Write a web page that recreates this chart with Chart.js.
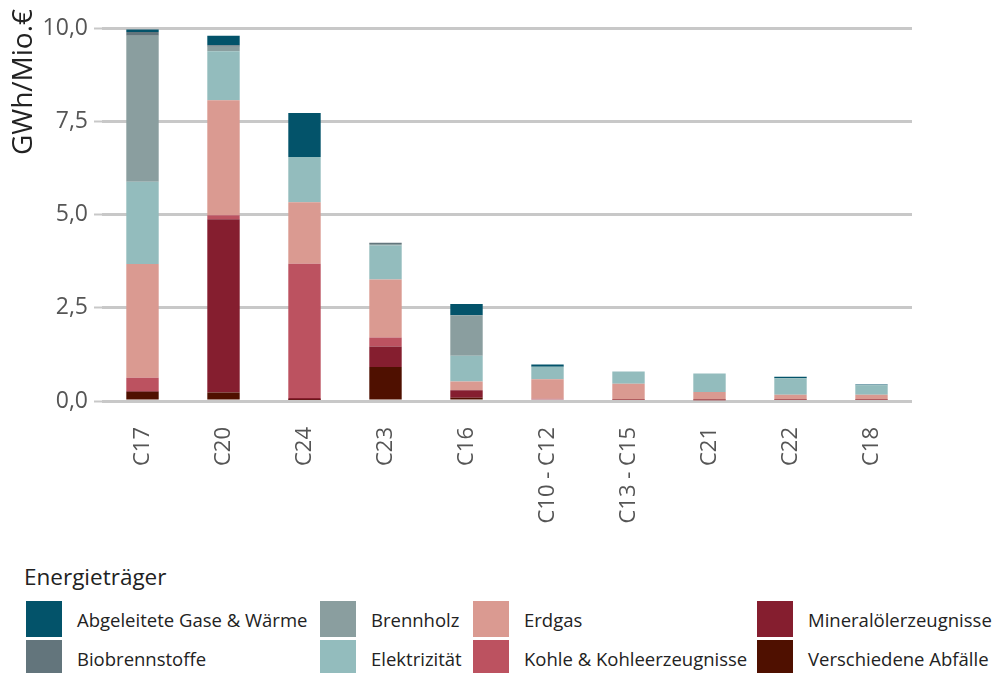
<!DOCTYPE html>
<html>
<head>
<meta charset="utf-8">
<script src="https://cdn.jsdelivr.net/npm/chart.js@4.4.0/dist/chart.umd.min.js"></script>
<style>
  body { margin: 0; background: #fff; font-family: 'Open Sans', sans-serif; }
  #wrap { position: relative; width: 994px; height: 673px; overflow: hidden; }
  #chartBox { position: absolute; left: 0; top: 0; width: 994px; height: 552px; }
  #legend { position: absolute; left: 24px; top: 561px; color: #222; }
  #legend .title { font-size: 22.5px; margin-bottom: 9px; }
  #legend .items { display: grid; grid-template-rows: 36px 36px; grid-template-columns: 294px 153px 284px auto; grid-auto-flow: column; row-gap: 3px; }
  #legend .item { display: flex; align-items: center; font-size: 18.5px; white-space: nowrap; }
  #legend .sw { width: 36px; height: 36px; margin-left: 2px; margin-right: 15px; }
</style>
</head>
<body>
<div id="wrap">
  <div id="chartBox"><canvas id="chart"></canvas></div>
  <div id="legend"></div>
</div>
<script>
const categories = ['C17', 'C20', 'C24', 'C23', 'C16', 'C10 - C12', 'C13 - C15', 'C21', 'C22', 'C18'];

// stacked from bottom to top
const verschiedeneAbfaelle = [0.25, 0.23, 0.03, 0.91, 0.09, 0, 0, 0, 0, 0];
const mineraloelerzeugnisse = [0.02, 4.64, 0.05, 0.55, 0.20, 0.05, 0.03, 0.02, 0.03, 0.03];
const kohle = [0.35, 0.11, 3.60, 0.24, 0, 0.01, 0, 0, 0, 0];
const erdgas = [3.05, 3.08, 1.65, 1.56, 0.23, 0.52, 0.43, 0.22, 0.14, 0.14];
const elektrizitaet = [2.21, 1.32, 1.21, 0.91, 0.69, 0.34, 0.33, 0.50, 0.44, 0.25];
const brennholz = [3.91, 0.12, 0, 0.04, 1.09, 0, 0, 0, 0, 0];
const biobrennstoffe = [0.10, 0.04, 0, 0.03, 0, 0, 0, 0, 0, 0];
const abgeleiteteGase = [0.07, 0.25, 1.18, 0, 0.30, 0.06, 0, 0, 0.04, 0.02];

const yTicks = [0, 2.5, 5, 7.5, 10];

const series = [
    { label: 'Verschiedene Abfälle', data: verschiedeneAbfaelle, color: '#4f1000' },
    { label: 'Mineralölerzeugnisse', data: mineraloelerzeugnisse, color: '#851e2f' },
    { label: 'Kohle & Kohleerzeugnisse', data: kohle, color: '#bc5260' },
    { label: 'Erdgas', data: erdgas, color: '#da9a91' },
    { label: 'Elektrizität', data: elektrizitaet, color: '#93bcbd' },
    { label: 'Brennholz', data: brennholz, color: '#8a9e9f' },
    { label: 'Biobrennstoffe', data: biobrennstoffe, color: '#63757c' },
    { label: 'Abgeleitete Gase & Wärme', data: abgeleiteteGase, color: '#03536a' },
];

// y axis title sits at the top-left, drawn by hand
const yTitlePlugin = {
    id: 'yTitle',
    afterDraw(chart) {
        const ctx = chart.ctx;
        ctx.save();
        ctx.translate(24, 82);
        ctx.rotate(-Math.PI / 2);
        ctx.font = '28px "Open Sans"';
        ctx.fillStyle = '#222';
        ctx.textAlign = 'center';
        ctx.textBaseline = 'middle';
        ctx.fillText('GWh/Mio.€', 0, 0);
        ctx.restore();
    }
};

new Chart(document.getElementById('chart'), {
    type: 'bar',
    data: {
        labels: categories,
        datasets: series.map(s => ({
            label: s.label,
            data: s.data,
            backgroundColor: s.color,
            borderWidth: 0,
            barPercentage: 0.4,
            categoryPercentage: 1.0,
        }))
    },
    options: {
        responsive: true,
        maintainAspectRatio: false,
        animation: false,
        layout: { padding: { top: 28, right: 82, left: 0, bottom: 0 } },
        plugins: {
            legend: { display: false },
            tooltip: { enabled: false }
        },
        scales: {
            x: {
                stacked: true,
                grid: { display: false, drawTicks: false },
                border: { display: false },
                ticks: {
                    color: '#555',
                    font: { family: 'Open Sans', size: 22 },
                    maxRotation: 90,
                    minRotation: 90,
                    padding: 26,
                },
                afterFit: s => { s.height = 151; }
            },
            y: {
                stacked: true,
                min: 0,
                max: 10,
                afterBuildTicks: s => { s.ticks = yTicks.map(v => ({ value: v })); },
                grid: { color: '#c8c8c8', lineWidth: 3, tickLength: 8, tickColor: '#c8c8c8', tickWidth: 2 },
                border: { display: false },
                ticks: {
                    color: '#555',
                    font: { family: 'Open Sans', size: 23 },
                    padding: 6,
                    callback: v => v.toFixed(1).replace('.', ',')
                },
                afterFit: s => { s.width = 102; }
            }
        }
    },
    plugins: [yTitlePlugin]
});

// legend, ordered top of stack first, filled column by column
const legendDiv = document.getElementById('legend');
legendDiv.innerHTML = '<div class="title">Energieträger</div>';
const items = document.createElement('div');
items.className = 'items';
series.slice().reverse().forEach(s => {
    const item = document.createElement('div');
    item.className = 'item';
    const sw = document.createElement('span');
    sw.className = 'sw';
    sw.style.background = s.color;
    const txt = document.createElement('span');
    txt.textContent = s.label;
    item.appendChild(sw);
    item.appendChild(txt);
    items.appendChild(item);
});
legendDiv.appendChild(items);
</script>
</body>
</html>
